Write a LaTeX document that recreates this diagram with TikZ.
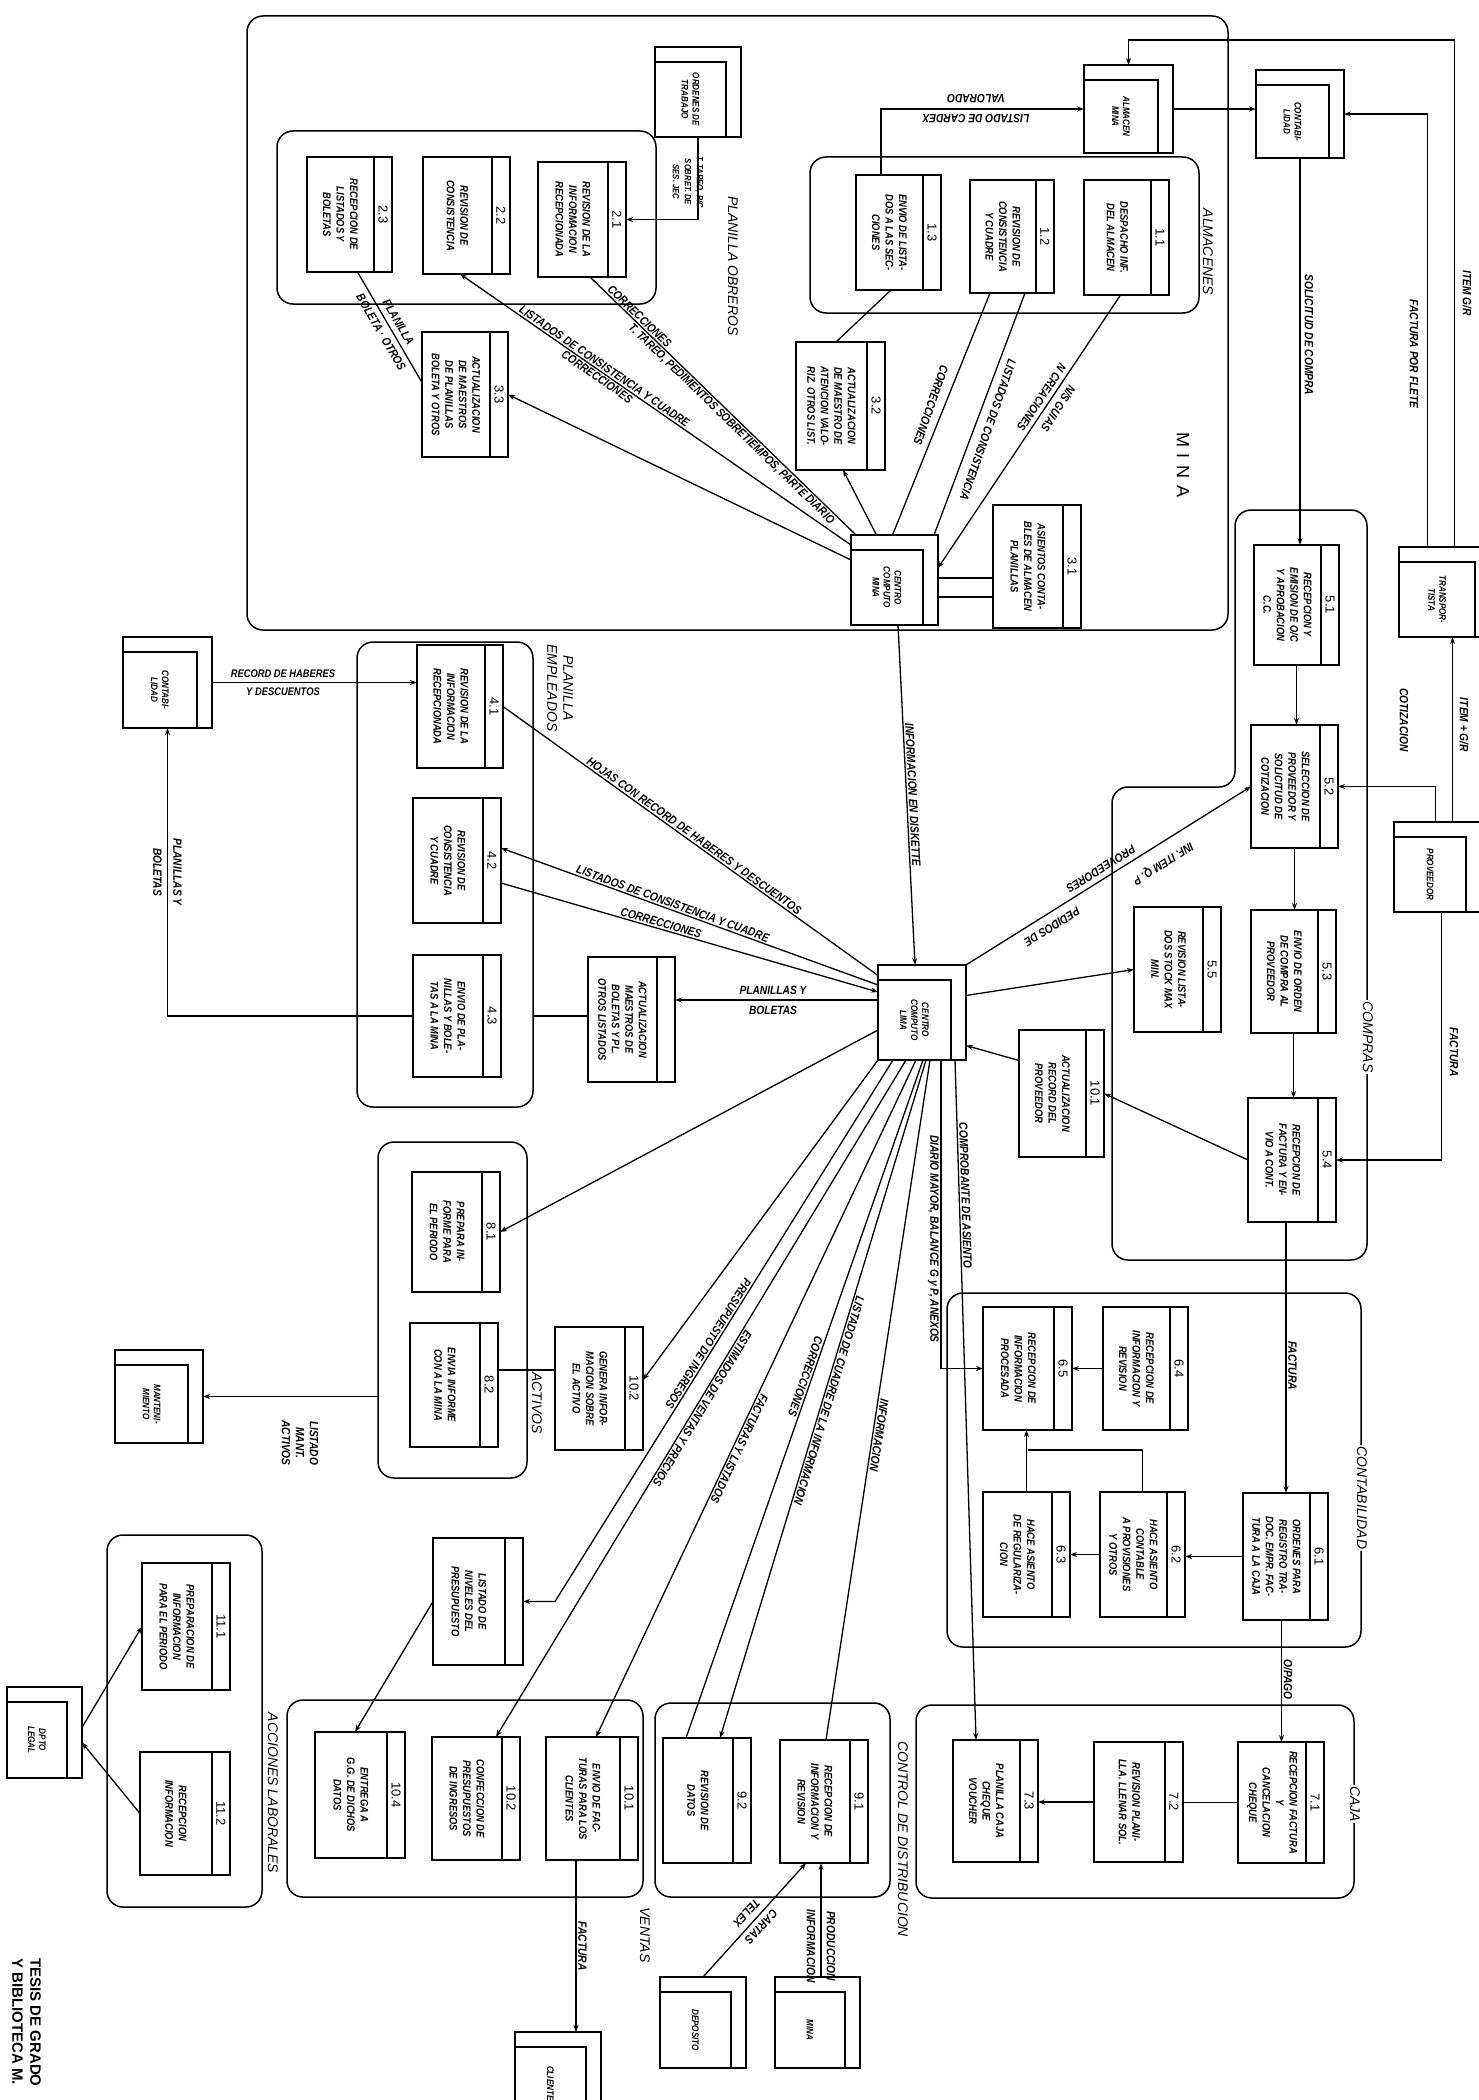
\documentclass[tikz,border=0pt]{standalone}
\usepackage{fontspec}
\newfontfamily\hand[FakeStretch=0.85]{Liberation Sans}
\newfontfamily\plainsans{Liberation Sans}
\usetikzlibrary{fit,arrows.meta,calc}
\tikzset{
  box/.style={draw, line width=1.6pt, inner sep=0pt, outer sep=0pt},
  grp/.style={draw, line width=1.5pt, rounded corners=16pt, inner sep=0pt, outer sep=0pt},
  con/.style={line width=1.3pt},
  arr/.style={con, -{Stealth[length=7pt,width=5pt]}},
  rarr/.style={con, {Stealth[length=7pt,width=5pt]}-},
  ptext/.style={font=\hand\bfseries\itshape\fontsize{11}{13.5}\selectfont, rotate=-90, align=center, inner sep=0pt},
  pnum/.style={font=\plainsans\fontsize{13}{13}\selectfont, rotate=-90, inner sep=0pt},
  etext/.style={font=\hand\bfseries\itshape\fontsize{9.5}{11}\selectfont, rotate=-90, align=center, inner sep=0pt},
  lab/.style={font=\hand\bfseries\itshape\fontsize{12}{14}\selectfont, align=center, inner sep=1.5pt},
  strad/.style={font=\hand\bfseries\itshape\fontsize{12}{20}\selectfont, align=center, inner sep=1pt},
  glab/.style={font=\plainsans\itshape\fontsize{14}{16}\selectfont, rotate=-90, align=center, inner sep=1.5pt},
}
\newcommand{\procbox}[5]{%
  \node[box, fit={#2 #3}] (#1) {};
  \draw[line width=1.3pt] ([xshift=-18pt]#1.north east) -- ([xshift=-18pt]#1.south east);
  \node[pnum] (#1n) at ([xshift=-9pt]#1.east) {#4};
  \node[ptext] (#1t) at ([xshift=-9pt]#1.center) {#5};
}
\newcommand{\entbox}[4]{%
  \node[box, fit={#2 #3}] (#1) {};
  \draw[line width=1.3pt] ([yshift=-15pt]#1.north west) -| ([xshift=-15pt]#1.south east);
  \node[etext] (#1t) at ([xshift=-7.5pt,yshift=-7.5pt]#1.center) {#4};
}
\begin{document}
\begin{tikzpicture}[x=1pt,y=-1pt]
\fill[white] (0,0) rectangle (1479,2100);
\useasboundingbox (0,0) rectangle (1479,2100);

% ---------------- groups
\node[grp, fit={(247,16) (1228,630)}] (gmina) {};
\node[grp, fit={(277,131) (656,304)}] (gob) {};
\node[grp, fit={(810,157) (1199,313)}] (galm) {};
\node[grp, fit={(357,642) (533,1107)}] (gemp) {};
\node[grp, fit={(378,1142) (527,1478)}] (gact) {};
\draw[line width=1.5pt, rounded corners=16pt] (1300,510) -- (1367,510) -- (1367,1260) -- (1112,1260) -- (1112,787) -- (1235,787) -- (1235,510) -- cycle;
\node[grp, fit={(947,1293) (1361,1647)}] (gcont) {};
\node[grp, fit={(916,1705) (1354,1898)}] (gcaja) {};
\node[grp, fit={(655,1703) (890,1897)}] (gdist) {};
\node[grp, fit={(287,1700) (643,1897)}] (gven) {};
\node[grp, fit={(107,1535) (262,1907)}] (gacc) {};

% ---------------- processes
\procbox{p23}{(307,157)}{(392,272)}{2.3}{RECEPCION DE\\LISTADOS Y\\BOLETAS}
\procbox{p22}{(423,157)}{(510,274)}{2.2}{REVISION DE\\CONSISTENCIA}
\procbox{p21}{(538,162)}{(626,277)}{2.1}{REVISION DE LA\\INFORMACION\\RECEPCIONADA}
\procbox{p33}{(422,332)}{(508,457)}{3.3}{ACTUALIZACION\\DE MAESTROS\\DE PLANILLAS\\BOLETA Y OTROS}
\procbox{p13}{(856,175)}{(941,290)}{1.3}{ENVIO DE LISTA-\\DOS A LAS SEC-\\CIONES}
\procbox{p12}{(970,180)}{(1054,293)}{1.2}{REVISION DE\\CONSISTENCIA\\Y CUADRE}
\procbox{p11}{(1084,180)}{(1169,295)}{1.1}{DESPACHO INF.\\DEL ALMACEN}
\procbox{p32}{(796,342)}{(885,470)}{3.2}{ACTUALIZACION\\DE MAESTRO DE\\ATENCION VALO-\\RIZ. OTROS LIST.}
\procbox{p31}{(993,505)}{(1081,628)}{3.1}{ASIENTOS CONTA-\\BLES DE ALMACEN\\PLANILLAS}
\procbox{p41}{(417,645)}{(503,768)}{4.1}{REVISION DE LA\\INFORMACION\\RECEPCIONADA}
\procbox{p42}{(413,798)}{(501,923)}{4.2}{REVISION DE\\CONSISTENCIA\\Y CUADRE}
\procbox{p43}{(413,955)}{(501,1077)}{4.3}{ENVIO DE PLA-\\NILLAS Y BOLE-\\TAS A LA MINA}
\procbox{pam}{(588,957)}{(675,1082)}{}{ACTUALIZACION\\MAESTROS DE\\BOLETAS Y PL.\\OTROS LISTADOS}
\procbox{p51}{(1254,545)}{(1339,665)}{5.1}{RECEPCION Y\\EMISION DE O/C\\Y APROBACION\\C.C.}
\procbox{p52}{(1251,725)}{(1338,848)}{5.2}{SELECCION DE\\PROVEEDOR Y\\SOLICITUD DE\\COTIZACION}
\procbox{p53}{(1251,910)}{(1336,1033)}{5.3}{ENVIO DE ORDEN\\DE COMPRA AL\\PROVEEDOR}
\procbox{p55}{(1134,907)}{(1221,1032)}{5.5}{REVISION LISTA-\\DOS STOCK MAX\\MIN.}
\procbox{p101}{(1019,1030)}{(1104,1157)}{10.1}{ACTUALIZACION\\RECORD DEL\\PROVEEDOR}
\procbox{p54}{(1248,1098)}{(1336,1222)}{5.4}{RECEPCION DE\\FACTURA Y EN-\\VIO A CONT.}
\procbox{p81}{(412,1172)}{(500,1292)}{8.1}{PREPARA IN-\\FORME PARA\\EL PERIODO}
\procbox{p82}{(410,1323)}{(498,1447)}{8.2}{ENVIA INFORME\\CON A LA MINA}
\procbox{pgen}{(555,1327)}{(643,1450)}{10.2}{GENERA INFOR-\\MACION SOBRE\\EL ACTIVO}
\procbox{p65}{(983,1307)}{(1072,1430)}{6.5}{RECEPCION DE\\INFORMACION\\PROCESADA}
\procbox{p64}{(1103,1307)}{(1188,1430)}{6.4}{RECEPCION DE\\INFORMACION Y\\REVISION}
\procbox{p61}{(1243,1493)}{(1328,1620)}{6.1}{ORDENES PARA\\REGISTRO TRA-\\DOC. EMPR. FAC-\\TURA A LA CAJA}
\procbox{p62}{(1100,1492)}{(1185,1617)}{6.2}{HACE ASIENTO\\CONTABLE\\A PROVISIONES\\Y OTROS}
\procbox{p63}{(983,1492)}{(1070,1617)}{6.3}{HACE ASIENTO\\DE REGULARIZA-\\CION}
\procbox{p71}{(1238,1742)}{(1324,1863)}{7.1}{RECEPCION FACTURA\\Y\\CANCELACION\\CHEQUE}
\procbox{p72}{(1094,1742)}{(1183,1862)}{7.2}{REVISION PLANI-\\LLA. LLENAR SOL.}
\procbox{p73}{(953,1740)}{(1038,1862)}{7.3}{PLANILLA CAJA\\CHEQUE\\VOUCHER}
\procbox{p91}{(780,1740)}{(868,1863)}{9.1}{RECEPCION DE\\INFORMACION Y\\REVISION}
\procbox{p92}{(663,1738)}{(751,1863)}{9.2}{REVISION DE\\DATOS}
\procbox{pv101}{(546,1737)}{(638,1860)}{10.1}{ENVIO DE FAC-\\TURAS PARA LOS\\CLIENTES}
\procbox{pv102}{(432,1737)}{(520,1860)}{10.2}{CONFECCION DE\\PRESUPUESTOS\\DE INGRESOS}
\procbox{pv104}{(315,1732)}{(405,1858)}{10.4}{ENTREGA A\\G.G. DE DICHOS\\DATOS}
\procbox{pniv}{(433,1538)}{(523,1665)}{}{LISTADO DE\\NIVELES DEL\\PRESUPUESTO}
\procbox{p111}{(142,1563)}{(230,1690)}{11.1}{PREPARACION DE\\INFORMACION\\PARA EL PERIODO}
\procbox{p112}{(140,1752)}{(230,1875)}{11.2}{RECEPCION\\INFORMACION}

% ---------------- external entities / stores
\entbox{eord}{(655,47)}{(741,137)}{ORDENES DE\\TRABAJO}
\entbox{ealm}{(1084,65)}{(1173,153)}{ALMACEN\\MINA}
\entbox{econr}{(1256,70)}{(1344,158)}{CONTABI-\\LIDAD}
\entbox{etra}{(1399,547)}{(1490,637)}{TRANSPOR-\\TISTA}
\entbox{eprov}{(1394,822)}{(1481,912)}{PROVEEDOR}
\entbox{econl}{(123,637)}{(212,728)}{CONTABI-\\LIDAD}
\entbox{ecc}{(851,535)}{(938,625)}{CENTRO\\COMPUTO\\MINA}
\entbox{ecl}{(878,965)}{(966,1060)}{CENTRO\\COMPUTO\\LIMA}
\entbox{emant}{(115,1350)}{(203,1443)}{MANTENI-\\MIENTO}
\entbox{elegal}{(7,1687)}{(82,1778)}{DPTO\\LEGAL}
\entbox{emina}{(775,1977)}{(860,2068)}{MINA}
\entbox{edep}{(660,1977)}{(746,2068)}{DEPOSITO}
\entbox{ecli}{(515,2032)}{(601,2125)}{CLIENTES}

% ---------------- group labels
\node[font=\plainsans\fontsize{18}{18}\selectfont, rotate=-90] (lmina) at (1183,465) {M\hspace{7pt}I\hspace{7pt}N\hspace{7pt}A};
\node[glab] (lgob) at (733,266) {PLANILLA OBREROS};
\node[glab] (lgalm) at (1208,252) {ALMACENES};
\node[glab] (lgemp) at (560,688) {PLANILLA\\EMPLEADOS};
\node[glab] (lgact) at (537,1403) {ACTIVOS};
\node[glab, fill=white] (lgcomp) at (1368,1037) {COMPRAS};
\node[glab, fill=white] (lgcont) at (1362,1498) {CONTABILIDAD};
\node[glab, fill=white] (lgcaja) at (1355,1804) {CAJA};
\node[glab] (lgdist) at (903,1839) {CONTROL DE DISTRIBUCION};
\node[glab] (lgven) at (645,1935) {VENTAS};
\node[glab] (lgacc) at (273,1793) {ACCIONES LABORALES};
\node[font=\plainsans\bfseries\fontsize{15}{18}\selectfont, rotate=-90, anchor=north west, align=left, inner sep=0pt] (ltesis) at (41,1958) {TESIS DE GRADO\\Y BIBLIOTECA M.};

% ---------------- MINA connectors
\draw[arr] (eord.south) |- (p21.east);
\node[lab, font=\hand\bfseries\itshape\fontsize{9}{12}\selectfont, rotate=-90] (lord) at (688,182) {T. TAREO, P/C\\SOBRET. DE\\SES. JEC};
\draw[con] ([xshift=8pt]p23.south) -- ([yshift=12pt]p33.west) node[strad, sloped, midway] (lplb) {PLANILLA\\BOLETA · OTROS};
\draw[con] ([xshift=8pt]p21.south) -- ([xshift=5pt]ecc.north west)
  node[lab, sloped, above, pos=.17] (lf1a) {CORRECCIONES}
  node[lab, sloped, below, pos=.55] (lf1b) {T. TAREO, PEDIMENTOS SOBRETIEMPOS, PARTE DIARIO};
\draw[rarr] ([xshift=-6.5pt]p22.south) -- ([yshift=-10pt]ecc.north west)
  node[lab, sloped, above, pos=.36] (lf2) {LISTADOS DE CONSISTENCIA Y CUADRE}
  node[lab, sloped, below, pos=.36] (lf2b) {CORRECCIONES};
\draw[rarr] (p33.east) -- ([yshift=-25pt]ecc.north west);

\draw[arr] ([xshift=-17.5pt]p13.north) |- (ealm.west);
\node[strad, rotate=180] (lcardex) at (976,109) {LISTADO DE CARDEX\\VALORADO};
\draw[con] ([xshift=-7.5pt]p13.south) -- ([xshift=-4.5pt]p32.north);
\draw[arr] ([xshift=-18pt]ecc.north) -- ([xshift=2.5pt]p32.south);
\draw[con] ([xshift=-22pt]p12.south) -- ([xshift=-2pt]ecc.north);
\draw[con] ([xshift=13pt]p12.south) -- ([xshift=-4pt]ecc.north east);
\node[lab, rotate=-109.4] (l12a) at (931,405) {CORRECCIONES};
\node[lab, rotate=-109.4] (l12b) at (988,430) {LISTADOS DE CONSISTENCIA};
\draw[arr] ([xshift=-6pt]p11.south) -- ([yshift=12pt]ecc.east);
\node[strad, rotate=-123.6] (l11) at (1050,403) {N/S GUIAS\\N CREACIONES};
\coordinate (m1) at ([yshift=2pt]ecc.east);
\coordinate (m2) at ([yshift=-17pt]ecc.east);
\draw[con] (m1) -- (m1 -| p31.west);
\draw[con] (m2) -- (m2 -| p31.west);
\draw[arr] ([xshift=3.5pt]ecc.south) -- ([xshift=-7pt]ecl.north) node[lab, sloped, above, pos=.5] (ldisk) {INFORMACION EN DISKETTE};

% ---------------- right side (almacen, contabilidad, transportista, proveedor)
\draw[arr] (ealm.east) -- (ealm.east -| econr.west);
\draw[arr] ([xshift=10pt]etra.north) |- ([yshift=25pt]ealm.north) -- (ealm.north);
\node[lab, rotate=-90] (litem) at (1467,293) {ITEM G/R};
\draw[arr] ([xshift=-17pt]etra.north) |- (econr.east);
\node[lab, rotate=-90] (lflete) at (1414,354) {FACTURA POR FLETE};
\draw[arr] (econr.south) -- (econr.south |- p51.north);
\node[lab, rotate=-90] (lsol) at (1309,335) {SOLICITUD DE COMPRA};
\draw[arr] (p51.south) -- (p51.south |- p52.north);
\draw[arr] (p52.south) -- (p52.south |- p53.north);
\draw[arr] (p53.south) -- (p53.south |- p54.north);
\coordinate (cp1) at ([xshift=15pt]eprov.north);
\draw[arr] (cp1) -- (cp1 |- etra.south);
\node[lab, rotate=-90] (litem2) at (1464,725) {ITEM + G/R};
\draw[arr] ([xshift=-2pt]eprov.north) |- (p52.east);
\node[lab, rotate=-90] (lcot) at (1404,720) {COTIZACION};
\draw[arr] ([xshift=4pt]eprov.south) |- (p54.east);
\node[lab, rotate=-90] (lfact1) at (1454,1052) {FACTURA};
\draw[arr] (p54.west) -- (p101.east);
\draw[arr] ([yshift=33pt]p101.west) -- ([yshift=-33pt]ecl.east);
\draw[arr] ([yshift=17pt]ecl.east) -- (p55.west);
\draw[arr] (ecl.north east) -- (p52.west);
\node[lab, rotate=-148] (lq1) at (1163,863) {INF. ITEM Q. P};
\node[lab, rotate=-148] (lq2) at (1101,869) {PROVEEDORES};
\node[lab, rotate=-148] (lq3) at (1052,927) {PEDIDOS DE};

% ---------------- contabilidad / caja
\coordinate (c54) at ([xshift=-6pt]p54.south);
\draw[arr] (c54) -- (c54 |- p61.north) node[lab, sloped, above, pos=.53] (lfact2) {FACTURA};
\coordinate (c61) at ([xshift=-4pt]p61.south);
\draw[arr] (c61) -- (c61 |- p71.north) node[lab, sloped, above, pos=.49] (lopago) {O/PAGO};
\draw[arr] (p61.west) -- (p61.west -| p62.east);
\draw[arr] (p62.west) -- (p62.west -| p63.east);
\draw[arr] (p64.west) -- (p64.west -| p65.east);
\coordinate (j6) at ($(p65.south)+(0,20)$);
\draw[con] (p62.north) |- (j6);
\draw[arr] (p63.north) -- (p63.north |- p65.south);
\draw[con] (p71.west) -- (p71.west -| p72.east);
\draw[arr] (p72.west) -- (p72.west -| p73.east);

% ---------------- empleados
\draw[arr] (econl.east) -- (econl.east -| p41.west);
\node[strad, font=\hand\bfseries\itshape\fontsize{11}{18}\selectfont] (lrec) at (283,683) {RECORD DE HABERES\\Y DESCUENTOS};
\draw[arr] (p43.west) -| (econl.south);
\node[strad, rotate=-90] (lpb1) at (167.5,872) {PLANILLAS Y\\BOLETAS};
\draw[con] (p41.east) -- ([yshift=37pt]ecl.west) node[lab, sloped, above, pos=.5] (lhojas) {HOJAS CON RECORD DE HABERES Y DESCUENTOS};
\draw[rarr] ([yshift=12.5pt]p42.east) -- ([yshift=27.5pt]ecl.west) node[lab, sloped, above, pos=.45] (llc) {LISTADOS DE CONSISTENCIA Y CUADRE};
\draw[arr] ([yshift=-22.5pt]p42.east) -- ([yshift=20.5pt]ecl.west) node[lab, sloped, above, pos=.42] (lcor2) {CORRECCIONES};
\coordinate (c43) at (gemp.east |- p43.east);
\draw[con] (c43) -- (c43 -| pam.west);
\coordinate (cpb) at ([yshift=12.5pt]ecl.west);
\draw[arr] (cpb) -- (cpb -| pam.east);
\node[strad] (lpb2) at (773,1000) {PLANILLAS Y\\BOLETAS};

% ---------------- fan from CENTRO COMPUTO LIMA
\coordinate (fa) at ([yshift=-17.5pt]ecl.west);
\draw[arr] (fa) -- (p81.east);
\draw[arr] (ecl.south west) -- ([yshift=8.5pt]pgen.east);
\coordinate (fc) at ([xshift=15pt]ecl.south west);
\coordinate (fc2) at ([xshift=32pt]pniv.east);
\draw[arr] (fc) -- (fc2) node[lab, sloped, below, allow upside down, pos=.53] (lpres) {PRESUPUESTO DE INGRESOS} -- (pniv.east);
\draw[arr] ([xshift=28pt]ecl.south west) -- ([xshift=20pt]pv102.north) node[lab, sloped, above, allow upside down, pos=.51] (lest) {ESTIMADOS DE VENTAS Y PRECIOS};
\draw[arr] ([xshift=38pt]ecl.south west) -- ([xshift=4pt]pv101.north) node[lab, sloped, above, allow upside down, pos=.57] (lfl) {FACTURAS Y LISTADOS};
\draw[con] ([xshift=45pt]ecl.south west) -- ([xshift=-21pt]p92.north) node[lab, sloped, below, allow upside down, pos=.47] (lcor3) {CORRECCIONES};
\draw[arr] ([xshift=48pt]ecl.south west) -- ([xshift=13pt]p92.north) node[lab, sloped, above, allow upside down, pos=.5] (lcua) {LISTADO DE CUADRE DE LA INFORMACION};
\draw[con] ([xshift=52pt]ecl.south west) -- ([xshift=2pt]p91.north) node[lab, sloped, above, allow upside down, pos=.55] (linf) {INFORMACION};
\coordinate (fi) at ([xshift=63pt]ecl.south west);
\draw[arr] (fi) -- (fi |- p65.west) node[lab, sloped, below, pos=.58] (ldiario) {DIARIO MAYOR, BALANCE G y P, ANEXOS} -- (p65.west);
\draw[arr] ([xshift=77pt]ecl.south west) -- ([xshift=-19.5pt]p73.north) node[lab, sloped, above, pos=.2] (lcomp) {COMPROBANTE DE ASIENTO};

% ---------------- activos
\coordinate (c82) at (pgen.west |- 0,1370);
\draw[con] (c82) -- (c82 -| p82.east);
\coordinate (cman) at (gact.west |- emant.east);
\draw[arr] (cman) -- (emant.east);
\node[lab, rotate=-90] (llist) at (300,1443) {LISTADO\\MANT.\\ACTIVOS};

% ---------------- ventas, distribucion, legal
\draw[arr] (pniv.west) -- ([xshift=-5pt]pv104.north);
\draw[arr] ([yshift=5pt]elegal.east) -- (p111.west);
\draw[arr] (p112.west) -- ([yshift=-10pt]elegal.east);
\coordinate (cv) at ([xshift=-16pt]pv101.south);
\draw[arr] (cv) -- (cv |- ecli.north) node[lab, sloped, above, pos=.5] (lfact3) {FACTURA};
\coordinate (cm) at ([xshift=3.5pt]emina.north);
\draw[arr] (cm) -- (cm |- p91.south);
\node[strad, rotate=-90] (lprod) at (821,1946) {PRODUCCION\\INFORMACION};
\draw[arr] (edep.north) -- ([xshift=-18pt]p91.south);
\node[strad, rotate=-133] (ltelex) at (754,1920) {CARTAS\\TELEX};
\end{tikzpicture}
\end{document}
